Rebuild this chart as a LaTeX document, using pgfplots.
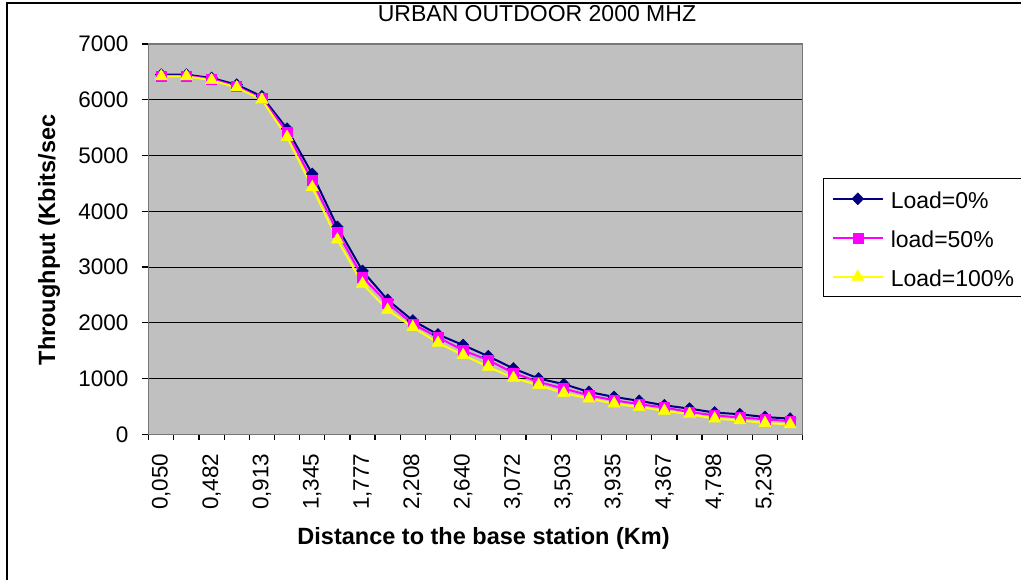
\documentclass[border=0pt]{standalone}
\usepackage{fontspec}
\setmainfont{Liberation Sans}
\usepackage{pgfplots}
\usepackage{pgfplotstable}
\pgfplotsset{compat=1.18}

\definecolor{xlnavy}{RGB}{0,0,128}
\definecolor{xlmagenta}{RGB}{255,0,255}
\definecolor{xlyellow}{RGB}{255,255,0}
\definecolor{xlsilver}{RGB}{192,192,192}
\definecolor{xlframe}{RGB}{120,120,120}

% throughput (Kbits/sec) per distance step, three load levels
\pgfplotstableread{
idx l0   l50  l100
0   6450 6430 6420
1   6450 6430 6420
2   6390 6370 6350
3   6270 6240 6220
4   6060 6020 6000
5   5480 5420 5330
6   4670 4550 4430
7   3720 3630 3490
8   2930 2820 2700
9   2410 2350 2230
10  2040 1980 1920
11  1790 1740 1640
12  1600 1505 1420
13  1400 1330 1210
14  1180 1100 1010
15  1000  940  880
16   900  820  740
17   760  700  640
18   670  610  550
19   600  540  490
20   520  480  420
21   460  400  360
22   390  340  280
23   360  300  250
24   310  270  200
25   280  235  180
}\loadtable

\begin{document}
\begin{tikzpicture}
\useasboundingbox (0,0) rectangle (1021pt,579pt);
\fill[white] (0,0) rectangle (1021pt,579pt);
\draw[black, line width=1.5pt] (7pt,-20pt) rectangle (1040pt,576pt);
\begin{axis}[
    at={(148.7pt,144.7pt)}, anchor=south west,
    width=654pt, height=390.3pt, scale only axis,
    xmin=-0.5, xmax=25.5,
    ymin=0, ymax=7000,
    axis background/.style={fill=xlsilver},
    axis line style={draw=xlframe, line width=1.5pt},
    tick align=outside,
    xtick pos=bottom, ytick pos=left,
    major tick length=7pt, minor tick length=6pt,
    tick style={black, line width=1.2pt},
    every major x tick/.append style={draw=none},
    xtick={0,2,...,24},
    xticklabels={{0,050},{0,482},{0,913},{1,345},{1,777},{2,208},{2,640},{3,072},{3,503},{3,935},{4,367},{4,798},{5,230}},
    minor xtick={-0.5,0.5,...,25.5},
    ytick={0,1000,...,7000},
    ymajorgrids,
    major grid style={black, line width=1pt},
    /pgf/number format/assume math mode=true,
    /pgf/number format/1000 sep={},
    xticklabel style={rotate=90, anchor=east, inner sep=0pt, font=\fontsize{22.5}{26}\selectfont},
    yticklabel style={inner sep=0pt, font=\fontsize{22.5}{26}\selectfont},
    xticklabel shift=12pt,
    yticklabel shift=13pt,
    title={URBAN OUTDOOR 2000 MHZ},
    title style={at={(rel axis cs:0.5937,1.0628)}, anchor=center, inner sep=0pt, font=\fontsize{23}{27}\selectfont},
    xlabel={Distance to the base station (Km)},
    xlabel style={at={(rel axis cs:0.512,-0.2657)}, anchor=center, inner sep=0pt, font=\fontsize{23.5}{28}\selectfont\bfseries},
    ylabel={Throughput (Kbits/sec},
    ylabel style={at={(rel axis cs:-0.1524,0.498)}, anchor=center, inner sep=0pt, font=\fontsize{23.5}{28}\selectfont\bfseries},
    legend style={at={(1.0315,0.6559)}, anchor=north west, draw=black, line width=1pt, fill=white,
        inner xsep=8pt, inner ysep=10pt, row sep=19pt,
        font=\fontsize{23}{27}\selectfont,
        nodes={inner sep=0pt, text height=20pt, text depth=0pt},
        /tikz/every odd column/.append style={column sep=7pt}},
    legend cell align=left,
    legend image code/.code={\draw[mark repeat=2,mark phase=2] plot coordinates {(0pt,0pt) (25pt,0pt) (50pt,0pt)};},
]
\addplot[xlnavy, line width=2pt, mark=diamond*, mark size=6pt,
    mark options={solid, fill=xlnavy, draw=xlnavy, line width=0.5pt, xscale=1.3}]
    table[x=idx, y=l0] {\loadtable};
\addlegendentry{\makebox[130pt][l]{Load=0\%}}
\addplot[xlmagenta, line width=2pt, mark=square*, mark size=5pt,
    mark options={solid, fill=xlmagenta, draw=xlmagenta, line width=0.5pt}]
    table[x=idx, y=l50] {\loadtable};
\addlegendentry{\makebox[130pt][l]{load=50\%}}
\addplot[xlyellow, line width=2pt, mark=triangle*, mark size=7pt,
    mark options={solid, fill=xlyellow, draw=xlyellow, line width=0.5pt}]
    table[x=idx, y=l100] {\loadtable};
\addlegendentry{\makebox[130pt][l]{Load=100\%}}
\end{axis}
\end{tikzpicture}
\end{document}
